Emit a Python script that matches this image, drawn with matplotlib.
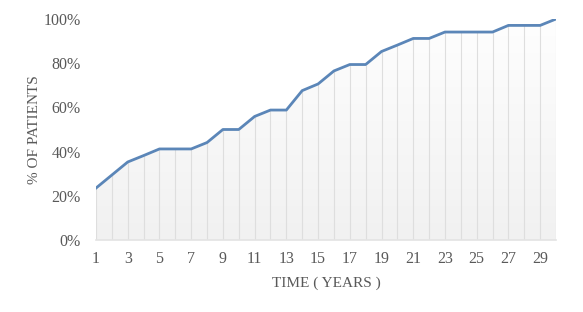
import numpy as np
import matplotlib
matplotlib.use("Agg")
import matplotlib.pyplot as plt
from matplotlib.ticker import FuncFormatter
from matplotlib.colors import LinearSegmentedColormap

years = list(range(1, 31))
pct_patients = [23.5, 29.4, 35.3, 38.2, 41.2, 41.2, 41.2, 44.1, 50.0, 50.0,
                55.9, 58.8, 58.8, 67.6, 70.6, 76.5, 79.4, 79.4, 85.3, 88.2,
                91.2, 91.2, 94.1, 94.1, 94.1, 94.1, 97.1, 97.1, 97.1, 100.0]
xtick_vals = list(range(1, 30, 2))
ytick_vals = [0, 20, 40, 60, 80, 100]

plt.rcParams['font.family'] = ['Liberation Serif', 'DejaVu Serif']

fig = plt.figure(figsize=(5.83, 3.12), dpi=100)
ax = fig.add_axes([96/583, 1-240/312, (556-96)/583, (240-19)/312])

x = np.array(years, dtype=float)
y = np.array(pct_patients)

# gradient fill under the line
poly = ax.fill_between(x, 0, y, facecolor='none', edgecolor='none')
grad = np.linspace(0, 1, 256).reshape(-1, 1)
cmap = LinearSegmentedColormap.from_list('g', ['#f1f1f1', '#fefefe'])
im = ax.imshow(grad, extent=[x.min(), x.max(), 0, 100], origin='lower',
               aspect='auto', cmap=cmap, zorder=1)
path = poly.get_paths()[0]
im.set_clip_path(path, transform=ax.transData)

# drop lines
ax.vlines(x, 0, y, colors='#dedede', linewidth=0.8, zorder=2)

ax.plot(x, y, color='#5b86b8', linewidth=2.0, zorder=3, solid_joinstyle='round')

ax.set_xlim(1, 30)
ax.set_ylim(0, 100)
ax.set_xticks(xtick_vals)
ax.set_yticks(ytick_vals)
ax.yaxis.set_major_formatter(FuncFormatter(lambda v, p: f"{int(v)}%"))
ax.tick_params(axis='both', length=0, labelsize=11.5, colors='#595959')
ax.tick_params(axis='y', pad=11)
ax.tick_params(axis='x', pad=8)

for s in ['top', 'right', 'left']:
    ax.spines[s].set_visible(False)
ax.spines['bottom'].set_color('#e3e3e3')
ax.spines['bottom'].set_linewidth(1.2)
ax.set_facecolor('white')

ax.set_xlabel('TIME ( YEARS )', fontsize=11, color='#595959', labelpad=7)
ax.set_ylabel('% OF PATIENTS', fontsize=11, color='#595959', labelpad=2)

fig.savefig('out.png', dpi=100)
